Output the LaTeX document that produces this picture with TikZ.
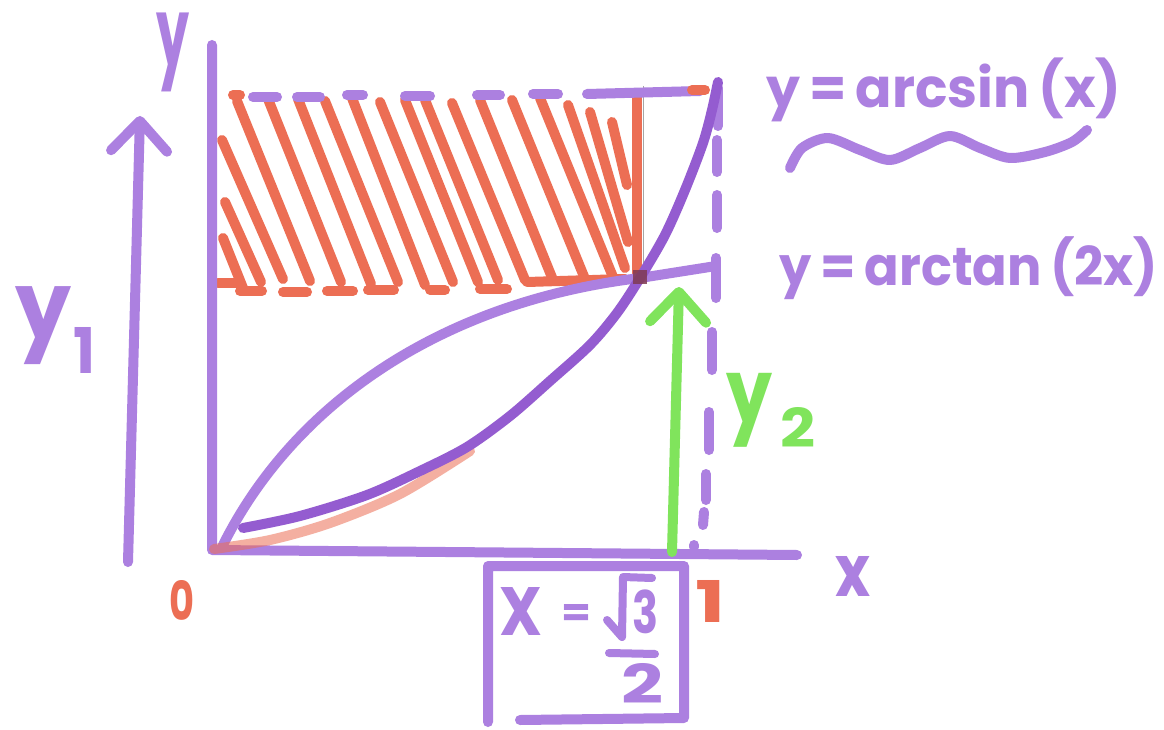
\documentclass[tikz,border=0pt]{standalone}
\usepackage{graphicx}
\usepackage{fontspec}
\usetikzlibrary{arrows.meta}
\newfontfamily\hand{Poppins}
\definecolor{mpurple}{RGB}{172,128,224}
\definecolor{mdpurple}{RGB}{148,92,208}
\definecolor{mred}{RGB}{236,110,84}
\definecolor{mgreen}{RGB}{128,228,92}
\definecolor{mdark}{RGB}{128,58,82}
\newcommand\hw[3]{\resizebox*{#1}{#2}{\hand\bfseries #3}}
\begin{document}
\begin{tikzpicture}[x=1pt,y=-1pt,
  pen/.style={line width=10pt,line cap=round,line join=round},
  ppen/.style={pen,draw=mpurple},
  dpen/.style={pen,draw=mdpurple},
  rpen/.style={pen,draw=mred},
  gpen/.style={pen,draw=mgreen},
  hatchline/.style={rpen,line width=10pt},
  lab/.style={inner sep=0pt,text=mpurple},
  rlab/.style={inner sep=0pt,text=mred},
  glab/.style={inner sep=0pt,text=mgreen},
  barb/.style={-{Straight Barb[length=30pt,width=56pt,round]}}]
\useasboundingbox (0,0) rectangle (1164,730);
\fill[white] (0,0) rectangle (1164,730);

% ---- red hatching ----
\foreach \a/\b/\c/\d in {223/238/243/288, 225/202/261/282, 222/140/283/279,
  237/101/310/281, 268/99/341/282, 298/99/371/284, 325/101/398/282,
  352/98/425/285, 380/102/453/282, 405/100/478/282, 425/100/498/280,
  452/103/525/280, 480/100/553/280, 512/100/585/279, 540/98/613/277,
  568/105/625/268, 590/112/628/242, 612/122/627/185}
  \draw[hatchline] (\a,\b) -- (\c,\d);
\draw[rpen] (637,97) -- (637,276);
\draw[gray!70,line width=0.8pt] (643,86) -- (643,272);

% bottom red dashes
\foreach \a/\b/\c/\d in {218/283/238/283, 240/291/262/291, 283/292/307/292,
  327/291/353/291, 368/290/394/290, 430/290/445/290, 480/289/507/289,
  527/282/625/279}
  \draw[rpen] (\a,\b) -- (\c,\d);

% top dashes
\draw[rpen] (233,95) -- (240,95);
\foreach \a/\b/\c/\d in {253/97/277/97, 297/97/320/97, 347/95/363/95,
  405/96/430/96, 477/95/500/95, 533/94/558/94, 587/94/700/91}
  \draw[ppen] (\a,\b) -- (\c,\d);
\draw[rpen] (692,90) -- (705,90);

% ---- axes ----
\coordinate (O) at (212,550);
\coordinate (ytop) at (212,45);
\coordinate (xend) at (797,555);
\draw[ppen] (ytop) -- (O) -- (xend);

% vertical dashed line at x = 1
\foreach \a/\b/\c/\d in {718/88/718/126, 717/140/717/172, 717/195/717/228,
  716/258/716/298, 712/332/712/370, 709/412/709/450, 706/474/706/500,
  704/512/703/525, 694/545/694/547}
  \draw[ppen] (\a,\b) -- (\c,\d);

% ---- curves ----
% y = arctan(2x)
\coordinate (tanstart) at (222,547);
\coordinate (I) at (640,278);
\coordinate (tanend) at (716,266);
\draw[ppen] (tanstart) .. controls (292,405) and (440,302) .. (I) -- (tanend);
% y = arcsin(x)
\draw[rpen,opacity=0.55] plot[smooth] coordinates {(214,549) (270,540) (330,523)
  (400,494) (470,451)};
\draw[dpen] plot[smooth] coordinates {(243,528) (300,516) (367,495) (420,471)
  (467,447) (510,416) (550,381) (590,345) (617,313) (640,278) (665,235)
  (685,190) (703,143) (712,110) (718,82)};
\fill[mdark,opacity=0.85] (633,270) rectangle (647,284);

% ---- arrows ----
\coordinate (a1s) at (128,562);
\coordinate (a1e) at (140,116);
\draw[ppen,barb] (a1s) -- (a1e);
\coordinate (g0) at (672,552);
\coordinate (g1) at (679,287);
\draw[gpen,barb] (g0) -- (g1);

% ---- box ----
\draw[ppen] (488,722) -- (488,566) -- (684,566) -- (684,718) -- (520,720);
\node[lab] (bx) at (521,611) {\hw{43pt}{48pt}{X}};
\node[lab] (beq) at (576,615) {\hw{30pt}{22pt}{=}};
\draw[ppen,line width=8pt] (607,620) -- (622,637) -- (623,577) -- (652,578);
\node[lab] (b3) at (645,612) {\hw{26pt}{44pt}{3}};
\draw[ppen,line width=8pt] (609,653) -- (655,654);
\node[lab] (b2) at (643,683) {\hw{42pt}{40pt}{2}};

% ---- labels ----
\node[lab] (ly) at (173,52) {\hw{33pt}{79pt}{y}};
\node[lab] (lx) at (853,576) {\hw{35pt}{40pt}{x}};
\node[rlab] (l0) at (182,600) {\hw{25pt}{40pt}{0}};
\node[rlab] (l1) at (710,601) {\hw{30pt}{42pt}{1}};
\node[lab] (ly1) at (44,326) {\hw{56pt}{78pt}{y}};
\node[lab] (ly1s) at (84,350) {\hw{22pt}{46pt}{1}};
\node[glab] (ly2) at (750,410) {\hw{46pt}{74pt}{y}};
\node[glab] (ly2s) at (798,427) {\hw{35pt}{40pt}{2}};
\node[lab] (lasin) at (944,90) {\hw{355pt}{64pt}{y\,=\,arcsin\,(x)}};
\node[lab] (latan) at (969,268) {\hw{378pt}{63pt}{y\,=\,arctan\,(2x)}};
\draw[ppen] plot[smooth] coordinates {(790,168) (802,148) (828,138) (860,150)
  (890,160) (920,148) (950,136) (980,148) (1010,158) (1045,152) (1072,142)
  (1087,130)};
\end{tikzpicture}
\end{document}
